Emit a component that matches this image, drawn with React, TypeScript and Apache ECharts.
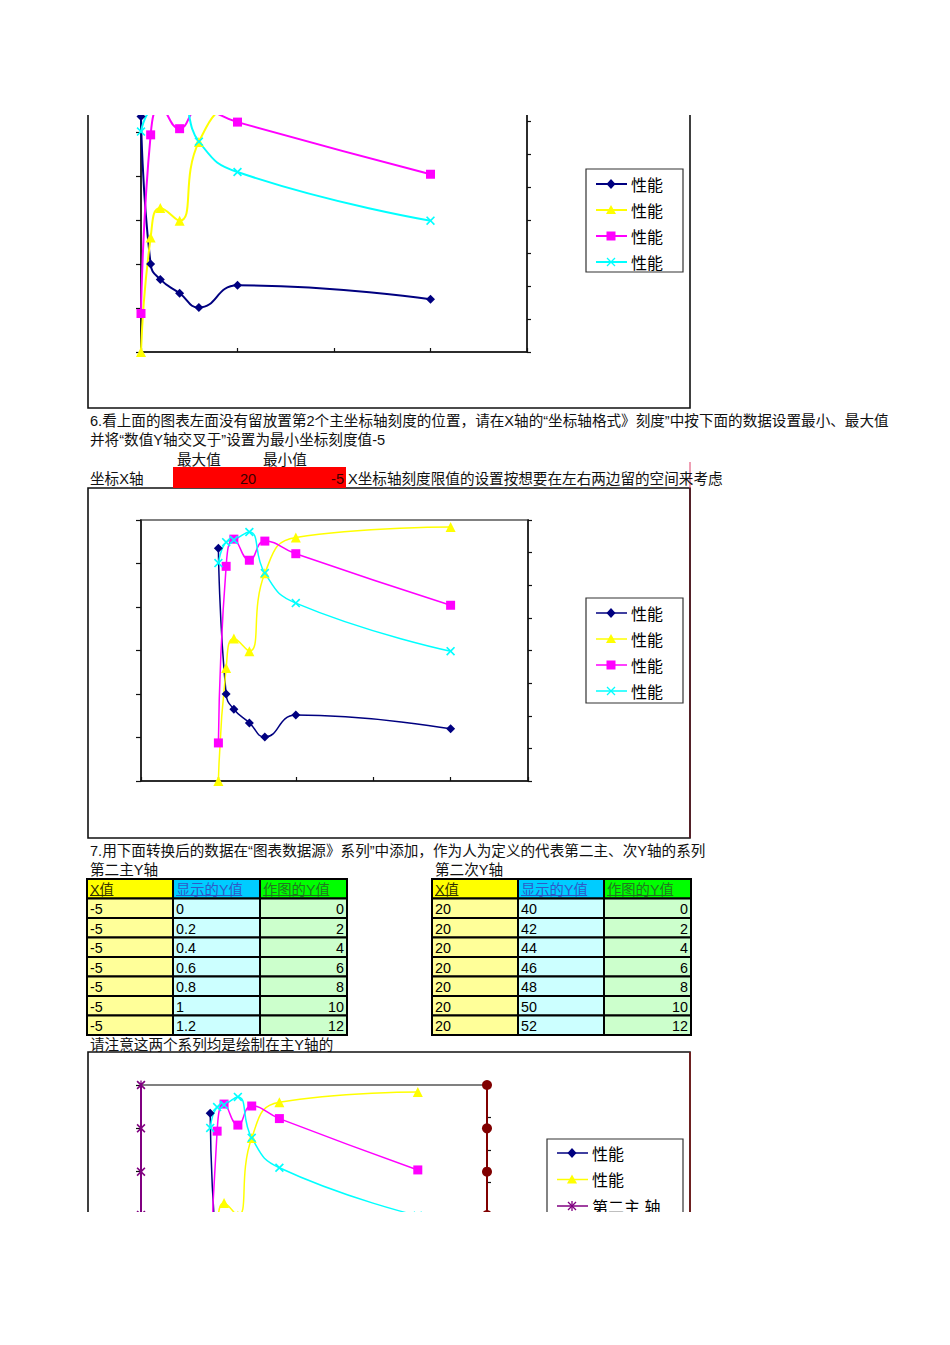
import React, { useEffect, useRef } from "react";
import * as echarts from "echarts";

// ---------- data ----------
const xValues = [0, 0.5, 1, 2, 3, 5, 15];
const seriesNavy = [10.7, 4.0, 3.3, 2.67, 2.02, 3.03, 2.4];
const seriesYellow = [0, 5.2, 6.55, 5.97, 9.55, 11.2, 11.68];
const seriesMagenta = [1.75, 9.87, 11.12, 10.15, 11.03, 10.45, 8.08];
const seriesCyan = [10.02, 10.98, 11.08, 11.45, 9.56, 8.18, 5.97];
const seriesName = "性能";

const secondMainX = [-5, -5, -5, -5, -5, -5, -5];
const secondMainShown = ["0", "0.2", "0.4", "0.6", "0.8", "1", "1.2"];
const secondMainPlot = [0, 2, 4, 6, 8, 10, 12];
const secondSubX = [20, 20, 20, 20, 20, 20, 20];
const secondSubShown = ["40", "42", "44", "46", "48", "50", "52"];
const secondSubPlot = [0, 2, 4, 6, 8, 10, 12];
const tableHeaders = ["X值", "显示的Y值", "作图的Y值"];

const axisLimitLabels = ["最大值", "最小值"];
const axisLimitValues = ["20", "-5"];

const text6a = "6.看上面的图表左面没有留放置第2个主坐标轴刻度的位置，请在X轴的“坐标轴格式》刻度”中按下面的数据设置最小、最大值";
const text6b = "并将“数值Y轴交叉于”设置为最小坐标刻度值-5";
const textAxisRow = "坐标X轴";
const textAxisNote = "X坐标轴刻度限值的设置按想要在左右两边留的空间来考虑";
const text7 = "7.用下面转换后的数据在“图表数据源》系列”中添加，作为人为定义的代表第二主、次Y轴的系列";
const textTable1 = "第二主Y轴";
const textTable2 = "第二次Y轴";
const textNote = "请注意这两个系列均是绘制在主Y轴的";
const legend3Third = "第二主 轴";

// ---------- styles ----------
const FONT = '"Liberation Sans", "Noto Sans CJK SC", sans-serif';
const BODY = 14.6;
const C_NAVY = "#000080";
const C_YELLOW = "#FFFF00";
const C_MAGENTA = "#FF00FF";
const C_CYAN = "#00FFFF";
const C_PURPLE = "#800080";
const C_DARKRED = "#800000";

const X_PATH =
  "path://M0,1.3L1.3,0L5,3.7L8.7,0L10,1.3L6.3,5L10,8.7L8.7,10L5,6.3L1.3,10L0,8.7L3.7,5Z";
const AST_PATH =
  "path://M0,1.3L1.3,0L5,3.7L8.7,0L10,1.3L6.3,5L10,8.7L8.7,10L5,6.3L1.3,10L0,8.7L3.7,5ZM4.3,0L5.7,0L5.7,10L4.3,10Z";

function txt(x: number, y: number, s: string, size = BODY, fill = "#111", align = "left") {
  return {
    type: "text",
    x,
    y,
    z: 50,
    style: {
      text: s,
      font: `${size}px ${FONT}`,
      fill,
      textAlign: align,
      textVerticalAlign: "middle",
    },
  };
}

function marker(kind: string, cx: number, cy: number, color: string): any[] {
  const z = 52;
  if (kind === "diamond")
    return [{ type: "polygon", z, shape: { points: [[cx, cy - 5], [cx + 4.5, cy], [cx, cy + 5], [cx - 4.5, cy]] }, style: { fill: color } }];
  if (kind === "triangle")
    return [{ type: "polygon", z, shape: { points: [[cx, cy - 5], [cx + 5, cy + 4], [cx - 5, cy + 4]] }, style: { fill: color } }];
  if (kind === "square")
    return [{ type: "rect", z, shape: { x: cx - 4.5, y: cy - 4.5, width: 9, height: 9 }, style: { fill: color } }];
  if (kind === "x")
    return [
      { type: "line", z, shape: { x1: cx - 4, y1: cy - 4, x2: cx + 4, y2: cy + 4 }, style: { stroke: color, lineWidth: 1.3 } },
      { type: "line", z, shape: { x1: cx - 4, y1: cy + 4, x2: cx + 4, y2: cy - 4 }, style: { stroke: color, lineWidth: 1.3 } },
    ];
  if (kind === "asterisk")
    return [
      { type: "line", z, shape: { x1: cx - 4, y1: cy - 4, x2: cx + 4, y2: cy + 4 }, style: { stroke: color, lineWidth: 1.3 } },
      { type: "line", z, shape: { x1: cx - 4, y1: cy + 4, x2: cx + 4, y2: cy - 4 }, style: { stroke: color, lineWidth: 1.3 } },
      { type: "line", z, shape: { x1: cx, y1: cy - 5, x2: cx, y2: cy + 5 }, style: { stroke: color, lineWidth: 1.3 } },
    ];
  return [{ type: "circle", z, shape: { cx, cy, r: 4 }, style: { fill: color } }];
}

function legend(
  box: { x: number; y: number; w: number; h: number },
  lineX: number,
  firstY: number,
  step: number,
  entries: { label: string; color: string; kind: string }[],
  lw: number
) {
  const els: any[] = [
    { type: "rect", z: 48, shape: { x: box.x, y: box.y, width: box.w, height: box.h }, style: { fill: "#fff", stroke: "#333", lineWidth: 1.2 } },
  ];
  entries.forEach((e, i) => {
    const y = firstY + i * step;
    els.push({ type: "line", z: 51, shape: { x1: lineX, y1: y, x2: lineX + 31, y2: y }, style: { stroke: e.color, lineWidth: lw } });
    els.push(...marker(e.kind, lineX + 15, y, e.color));
    els.push(txt(lineX + 35, y + 1, e.label, 16, "#000"));
  });
  return els;
}

function textWidth(s: string, size: number) {
  let w = 0;
  for (const ch of s) w += /[\u0000-\u00ff]/.test(ch) ? size * 0.62 : size;
  return w;
}

function table(x0: number, y0: number, colW: number[], cols: string[][]) {
  const rowH = 19.5;
  const headFill = ["#FFFF00", "#00CCFF", "#00FF00"];
  const headText = ["#333300", "#2F5BC8", "#227722"];
  const bodyFill = ["#FFFF99", "#CCFFFF", "#CCFFCC"];
  const els: any[] = [];
  let x = x0;
  colW.forEach((w, c) => {
    els.push({ type: "rect", z: 40, shape: { x, y: y0, width: w, height: rowH }, style: { fill: headFill[c], stroke: "#000", lineWidth: 2 } });
    const hs = tableHeaders[c];
    els.push(txt(x + 3, y0 + rowH / 2 + 1, hs, 14.3, headText[c]));
    els.push({ type: "line", z: 51, shape: { x1: x + 3, y1: y0 + rowH - 3, x2: x + 3 + textWidth(hs, 14.3), y2: y0 + rowH - 3 }, style: { stroke: headText[c], lineWidth: 1 } });
    cols[c].forEach((v, r) => {
      const y = y0 + rowH * (r + 1);
      els.push({ type: "rect", z: 40, shape: { x, y, width: w, height: rowH }, style: { fill: bodyFill[c], stroke: "#000", lineWidth: 2 } });
      if (c === 2) els.push(txt(x + w - 3, y + rowH / 2 + 1, v, 14.3, "#000", "right"));
      else els.push(txt(x + 3, y + rowH / 2 + 1, v, 14.3, "#000"));
    });
    x += w;
  });
  return els;
}

const axisLine = { show: true, onZero: false, lineStyle: { color: "#111", width: 1.5 } };

function makeAxes() {
  const grids = [
    { left: 141, top: 88, width: 386, height: 264 },
    { left: 141, top: 520, width: 387, height: 261 },
    { left: 141, top: 1085, width: 346, height: 264 },
  ].map((g) => ({ ...g, show: true, borderColor: "#808080", borderWidth: 2, backgroundColor: "transparent", containLabel: false }));
  const xRanges = [
    { min: 0, max: 20, interval: 5 },
    { min: -5, max: 20, interval: 5 },
    { min: -5, max: 20, interval: 5 },
  ];
  const xAxis = xRanges.map((r, i) => ({
    type: "value",
    gridIndex: i,
    ...r,
    axisLine,
    axisTick: { show: true, inside: true, length: 4, lineStyle: { color: "#111", width: 1.2 } },
    axisLabel: { show: false },
    splitLine: { show: false },
  }));
  const yAxis: any[] = [];
  for (let i = 0; i < 3; i++) {
    yAxis.push({
      type: "value",
      gridIndex: i,
      position: "left",
      min: 0,
      max: 12,
      interval: 2,
      axisLine,
      axisTick: { show: true, length: 5, lineStyle: { color: "#111", width: 1.2 } },
      axisLabel: { show: false },
      splitLine: { show: false },
    });
    yAxis.push({
      type: "value",
      gridIndex: i,
      position: "right",
      min: 0,
      max: 8,
      interval: 1,
      axisLine,
      axisTick: { show: true, length: 4, lineStyle: { color: "#111", width: 1.2 } },
      axisLabel: { show: false },
      splitLine: { show: false },
    });
  }
  return { grids, xAxis, yAxis };
}

function mainSeries(g: number, lw: number) {
  const defs = [
    { vals: seriesNavy, color: C_NAVY, symbol: "diamond", size: 9 },
    { vals: seriesYellow, color: C_YELLOW, symbol: "triangle", size: 10 },
    { vals: seriesMagenta, color: C_MAGENTA, symbol: "rect", size: 9 },
    { vals: seriesCyan, color: C_CYAN, symbol: X_PATH, size: 9 },
  ];
  return defs.map((d) => ({
    type: "line",
    name: seriesName,
    xAxisIndex: g,
    yAxisIndex: g * 2,
    data: xValues.map((x, i) => [x, d.vals[i]]),
    smooth: 0.5,
    clip: false,
    symbol: d.symbol,
    symbolSize: d.size,
    showSymbol: true,
    lineStyle: { color: d.color, width: lw },
    itemStyle: { color: d.color },
    z: 3,
  }));
}

export default function App() {
  const ref = useRef<HTMLDivElement>(null);
  useEffect(() => {
    if (!ref.current) return;
    const chart = echarts.init(ref.current, null, { renderer: "svg" });
    const { grids, xAxis, yAxis } = makeAxes();

    const series: any[] = [
      ...mainSeries(0, 2),
      ...mainSeries(1, 1.5),
      ...mainSeries(2, 1.5),
      {
        type: "line",
        name: textTable1,
        xAxisIndex: 2,
        yAxisIndex: 4,
        data: secondMainX.map((x, i) => [x, secondMainPlot[i]]),
        clip: false,
        symbol: AST_PATH,
        symbolSize: 9,
        lineStyle: { color: C_PURPLE, width: 2 },
        itemStyle: { color: C_PURPLE },
        z: 4,
      },
      {
        type: "line",
        name: textTable2,
        xAxisIndex: 2,
        yAxisIndex: 4,
        data: secondSubX.map((x, i) => [x, secondSubPlot[i]]),
        clip: false,
        symbol: "circle",
        symbolSize: 10,
        lineStyle: { color: C_DARKRED, width: 2 },
        itemStyle: { color: C_DARKRED },
        z: 4,
      },
    ];

    const entries4 = [
      { label: seriesName, color: C_NAVY, kind: "diamond" },
      { label: seriesName, color: C_YELLOW, kind: "triangle" },
      { label: seriesName, color: C_MAGENTA, kind: "square" },
      { label: seriesName, color: C_CYAN, kind: "x" },
    ];
    const entries3 = [
      { label: seriesName, color: C_NAVY, kind: "diamond" },
      { label: seriesName, color: C_YELLOW, kind: "triangle" },
      { label: legend3Third, color: C_PURPLE, kind: "asterisk" },
    ];

    const frame = (y1: number, y2: number) => ({
      type: "rect",
      z: 1,
      shape: { x: 88, y: y1, width: 602, height: y2 - y1 },
      style: { fill: "none", stroke: "#111", lineWidth: 1.6 },
    });

    const elements: any[] = [
      frame(60, 408),
      frame(488, 838),
      frame(1052, 1400),
      { type: "line", z: 2, shape: { x1: 690, y1: 1052, x2: 690, y2: 1212 }, style: { stroke: "#7a1a1a", lineWidth: 1.6 } },
      { type: "line", z: 2, shape: { x1: 690, y1: 488, x2: 690, y2: 838 }, style: { stroke: "#5a1a22", lineWidth: 1.6 } },
      { type: "line", z: 2, shape: { x1: 690, y1: 462, x2: 690, y2: 488 }, style: { stroke: "#e0406a", lineWidth: 1 } },
      ...legend({ x: 586, y: 169, w: 97, h: 103 }, 596, 184, 26, entries4, 2),
      ...legend({ x: 586, y: 598, w: 97, h: 105 }, 596, 613, 26, entries4, 1.5),
      ...legend({ x: 547, y: 1139, w: 136, h: 170 }, 557, 1153, 26.5, entries3, 1.5),
      txt(90, 421, text6a),
      txt(90, 440, text6b),
      txt(177, 460, axisLimitLabels[0]),
      txt(263, 460, axisLimitLabels[1]),
      txt(90, 479, textAxisRow),
      { type: "rect", z: 30, shape: { x: 173, y: 467, width: 173, height: 21 }, style: { fill: "#FF0000" } },
      txt(248, 479, axisLimitValues[0], BODY, "#3a0000", "center"),
      txt(344, 479, axisLimitValues[1], BODY, "#3a0000", "right"),
      txt(348, 479, textAxisNote),
      txt(90, 851, text7),
      txt(90, 870, textTable1),
      txt(435, 870, textTable2),
      ...table(87, 879, [86, 87, 87], [secondMainX.map(String), secondMainShown, secondMainPlot.map(String)]),
      ...table(432, 879, [86, 86, 87], [secondSubX.map(String), secondSubShown, secondSubPlot.map(String)]),
      txt(90, 1045, textNote),
      { type: "rect", z: 200, shape: { x: 0, y: 0, width: 950, height: 115 }, style: { fill: "#fff" } },
      { type: "rect", z: 200, shape: { x: 0, y: 1212, width: 950, height: 133 }, style: { fill: "#fff" } },
    ];

    chart.setOption({
      animation: false,
      backgroundColor: "#fff",
      grid: grids,
      xAxis,
      yAxis,
      series,
      graphic: { elements },
    });
    return () => chart.dispose();
  }, []);
  return <div ref={ref} style={{ position: "absolute", left: 0, top: 0, width: 950, height: 1345 }} />;
}
